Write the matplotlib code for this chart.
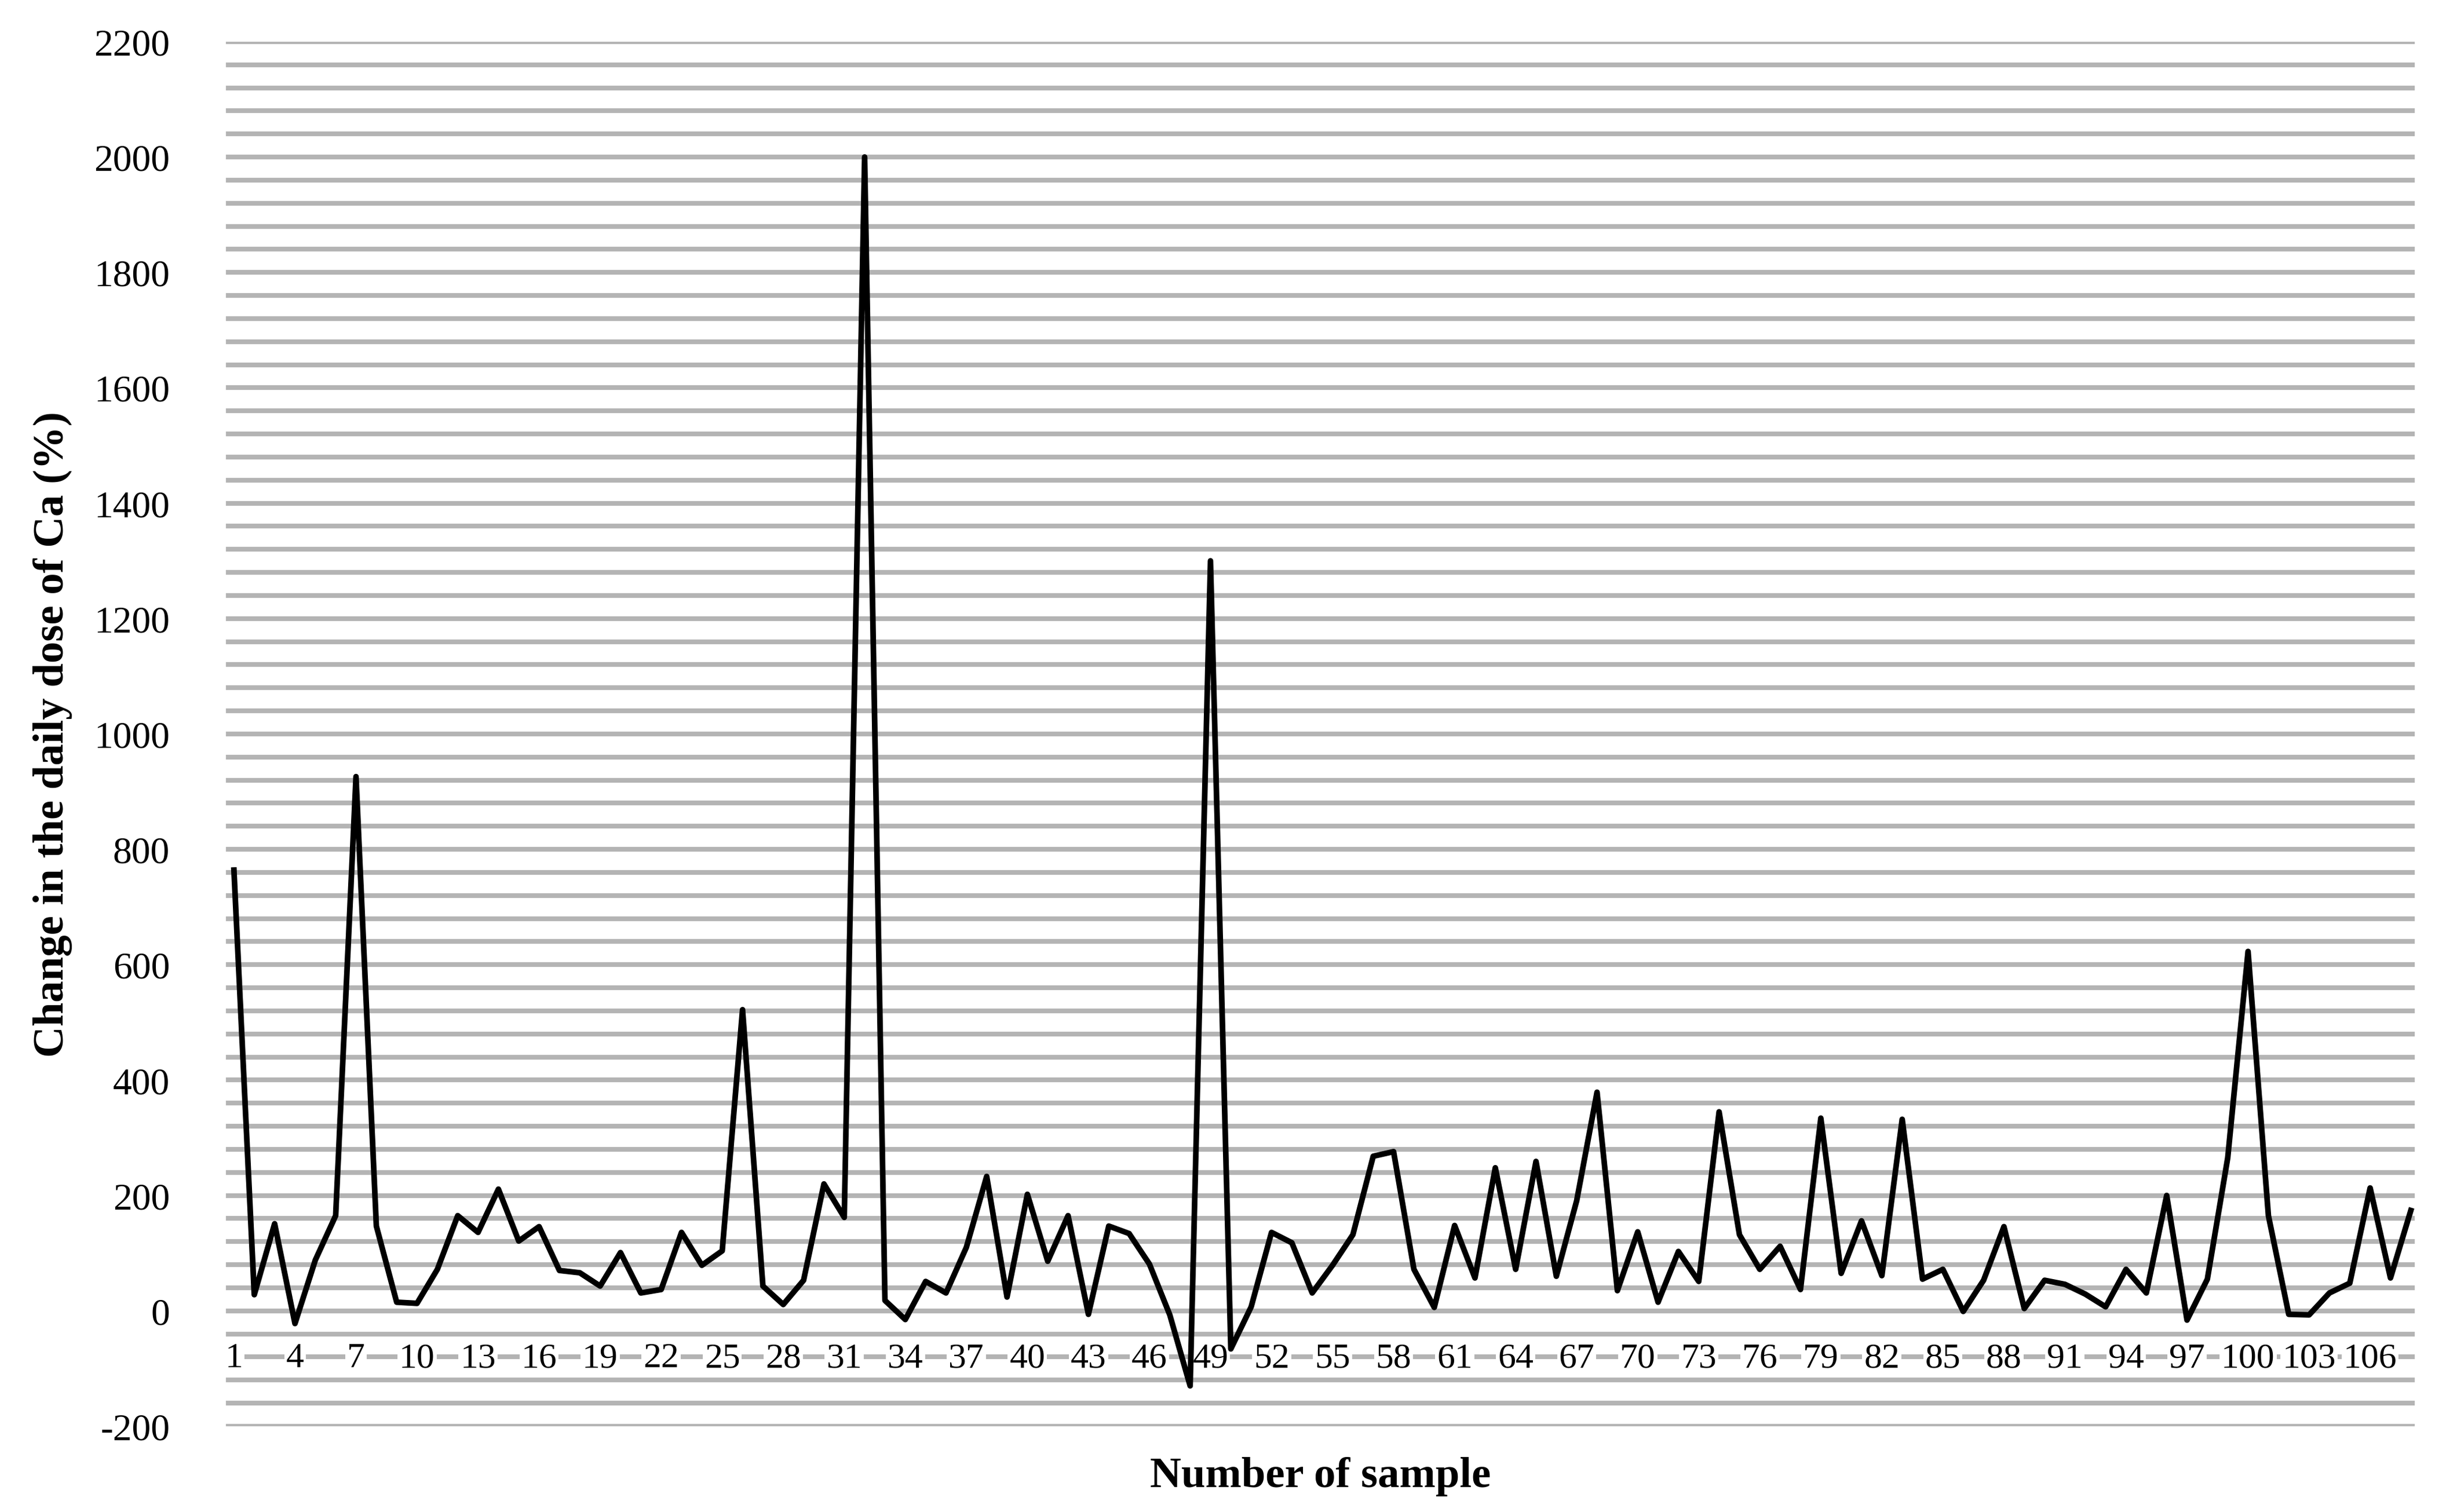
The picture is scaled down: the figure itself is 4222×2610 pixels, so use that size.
import matplotlib
matplotlib.use("Agg")
import matplotlib.pyplot as plt
import numpy as np

samples = list(range(1, 109))
values = [764, 28, 151, -22, 88, 165, 926, 147, 15, 13,
          72, 165, 136, 211, 121, 146, 70, 66, 43, 101,
          31, 37, 136, 79, 104, 522, 43, 11, 53, 220,
          162, 2000, 18, -15, 51, 31, 110, 233, 24, 202,
          86, 165, -6, 147, 134, 81, -7, -130, 1300, -66,
          7, 136, 118, 31, 79, 132, 268, 276, 72, 6,
          148, 57, 248, 72, 259, 60, 191, 379, 35, 137,
          15, 103, 51, 345, 132, 72, 112, 37, 334, 65,
          156, 61, 332, 55, 72, -1, 53, 146, 4, 53,
          46, 29, 7, 72, 31, 200, -16, 55, 265, 623,
          165, -6, -7, 31, 48, 213, 57, 174]
y_ticks = list(range(-200, 2201, 200))
x_labels = list(range(1, 109, 3))

plt.rcParams['font.family'] = ['Liberation Serif', 'DejaVu Serif']
fig = plt.figure(figsize=(15.68, 9.696), dpi=269.27)
ax = fig.add_axes([145/1568, 1-915/970, (1548-145)/1568, (915-27)/970])

for g in range(-200, 2201, 40):
    ax.axhline(g, color='#b4b4b4', lw=2.2, zorder=0)

ax.plot(samples, values, color='black', lw=2.6, zorder=3)

for s in x_labels:
    ax.text(s, -82, str(s), ha='center', va='center', fontsize=16.5,
            bbox=dict(facecolor='white', edgecolor='none', pad=0.8), zorder=2)

ax.set_xlim(0.62, 108.2)
ax.set_ylim(-200, 2200)
ax.set_yticks(y_ticks)
ax.set_yticklabels([str(t) for t in y_ticks], fontsize=17.5)
ax.set_xticks([])
ax.tick_params(axis='y', length=0, pad=26)
for sp in ax.spines.values():
    sp.set_visible(False)
ax.set_ylabel('Change in the daily dose of Ca (%)', fontsize=20, fontweight='bold', labelpad=10)
ax.set_xlabel('Number of sample', fontsize=20, fontweight='bold', labelpad=14)

fig.savefig('out.png', dpi=269.27)
